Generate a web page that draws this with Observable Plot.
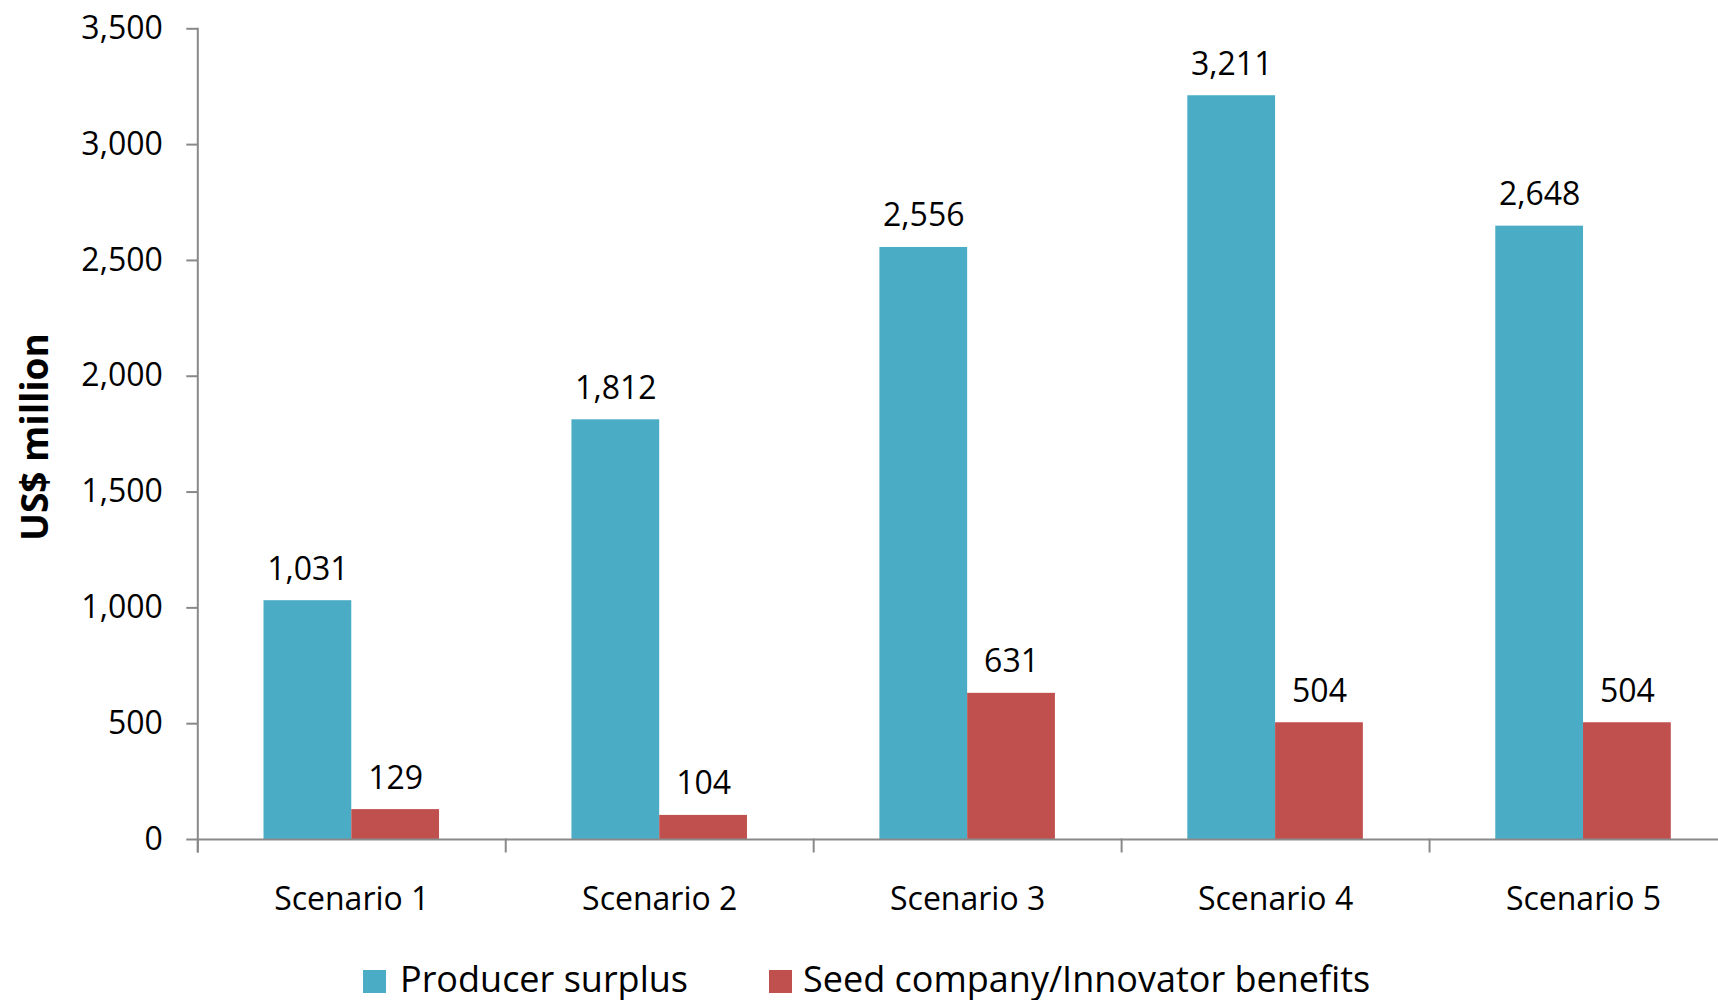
<!DOCTYPE html>
<html>
<head>
<meta charset="utf-8">
<script src="https://cdn.jsdelivr.net/npm/d3@7"></script>
<script src="https://cdn.jsdelivr.net/npm/@observablehq/plot@0.6"></script>
<style>
  html, body { margin: 0; padding: 0; background: #fff; overflow: hidden; }
  #chart { position: relative; width: 1718px; height: 1000px; overflow: hidden; font-family: "Open Sans", sans-serif; }
  #chart svg { display: block; max-width: none; }
  .swatch { position: absolute; width: 23px; height: 23px; }
  .legend-label { position: absolute; font-size: 36px; line-height: 1; color: #000; white-space: nowrap; }
</style>
</head>
<body>
<div id="chart"></div>
<script>
// Categories and series
const scenarios = ["Scenario 1", "Scenario 2", "Scenario 3", "Scenario 4", "Scenario 5"];
const seriesNames = ["Producer surplus", "Seed company/Innovator benefits"];
const seriesColors = ["#4BACC6", "#C0504D"];

// Values in US$ million
const producerSurplus = [1031, 1812, 2556, 3211, 2648];
const seedBenefits = [129, 104, 631, 504, 504];

// Y-axis tick values
const yTicks = [0, 500, 1000, 1500, 2000, 2500, 3000, 3500];
const yLabel = "US$ million";

const rows = scenarios.flatMap((s, i) => [
  {scenario: s, series: seriesNames[0], value: producerSurplus[i]},
  {scenario: s, series: seriesNames[1], value: seedBenefits[i]}
]);

const fmt = d3.format(",");
const axisGrey = "#898989";

// Layout: the last category runs slightly past the visible edge
const W = 1737, H = 945;
const mLeft = 197.3, mTop = 28.3, zeroY = 839;
const mBottom = H - zeroY;

const chart = Plot.plot({
  width: W,
  height: H,
  marginLeft: mLeft,
  marginRight: 0,
  marginTop: mTop,
  marginBottom: mBottom,
  style: {fontFamily: "Open Sans", fontSize: "32px", color: "#000", background: "#fff"},
  fx: {domain: scenarios, padding: 0, round: false, axis: null, label: null},
  x: {domain: seriesNames, paddingInner: 0, paddingOuter: 0.7544, round: false, axis: null},
  y: {domain: [0, 3500], axis: null, label: null},
  color: {domain: seriesNames, range: seriesColors},
  marks: [
    Plot.barY(rows, {fx: "scenario", x: "series", y: "value", fill: "series"}),
    Plot.text(rows, {
      fx: "scenario", x: "series", y: "value",
      text: d => fmt(d.value), lineAnchor: "bottom", dy: -21, fill: "#000"
    }),
    // category axis line and boundary ticks
    Plot.ruleY([0], {stroke: axisGrey, strokeWidth: 2}),
    Plot.frame({anchor: "left", stroke: axisGrey, strokeWidth: 2, insetTop: zeroY - mTop, insetBottom: -12}),
    // value axis
    Plot.frame({anchor: "left", facet: "super", stroke: axisGrey, strokeWidth: 2, insetBottom: -12}),
    Plot.axisY({ticks: yTicks, tickFormat: fmt, tickSize: 11, tickPadding: 24, stroke: axisGrey, strokeWidth: 2, fill: "#000", label: null}),
    Plot.axisFx({anchor: "bottom", tickSize: 0, tickPadding: 48, fill: "#000", label: null}),
    Plot.text([yLabel], {
      frameAnchor: "left", facet: "super", rotate: -90, dx: -162, dy: 3,
      textAnchor: "middle", lineAnchor: "middle",
      fontWeight: "bold", fontSize: 37, fill: "#000"
    })
  ]
});

const root = document.getElementById("chart");
root.appendChild(chart);

// Legend below the plot
const legendItems = [
  {name: seriesNames[0], color: seriesColors[0], swatchX: 363, textX: 400},
  {name: seriesNames[1], color: seriesColors[1], swatchX: 769, textX: 803}
];
for (const item of legendItems) {
  const sw = document.createElement("div");
  sw.className = "swatch";
  sw.style.left = item.swatchX + "px";
  sw.style.top = "970px";
  sw.style.background = item.color;
  root.appendChild(sw);
  const lab = document.createElement("div");
  lab.className = "legend-label";
  lab.style.left = item.textX + "px";
  lab.style.top = "961px";
  lab.textContent = item.name;
  root.appendChild(lab);
}
</script>
</body>
</html>
